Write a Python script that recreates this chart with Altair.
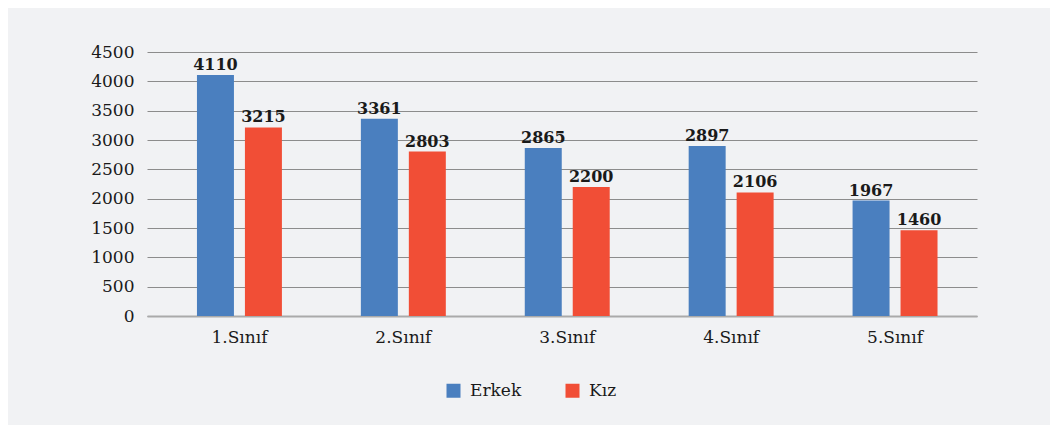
import altair as alt
import pandas as pd

classes = ["1.Sınıf", "2.Sınıf", "3.Sınıf", "4.Sınıf", "5.Sınıf"]
erkek = [4110, 3361, 2865, 2897, 1967]
kiz = [3215, 2803, 2200, 2106, 1460]
series = ["Erkek", "Kız"]
colors = ["#4a7fbf", "#f14e36"]
y_ticks = [0, 500, 1000, 1500, 2000, 2500, 3000, 3500, 4000, 4500]

rows = []
for c, e, k in zip(classes, erkek, kiz):
    rows.append({"Sınıf": c, "Cinsiyet": "Erkek", "Değer": e})
    rows.append({"Sınıf": c, "Cinsiyet": "Kız", "Değer": k})
df = pd.DataFrame(rows)

FONT = "DejaVu Serif"

x = alt.X("Sınıf:N", sort=classes, title=None,
          scale=alt.Scale(paddingInner=0, paddingOuter=0.032, align=1),
          axis=alt.Axis(labelAngle=0, labelFont=FONT, labelFontSize=17,
                        labelColor="#1a1a1a", labelPadding=13, ticks=False,
                        domainColor="#aaaaaa", domainWidth=2, grid=False))
xoff = alt.XOffset("Cinsiyet:N", sort=series,
                   scale=alt.Scale(paddingInner=0.229, paddingOuter=0.823))
y = alt.Y("Değer:Q", title=None,
          scale=alt.Scale(domain=[0, 4500], nice=False),
          axis=alt.Axis(values=y_ticks, format="d", labelFont=FONT, labelFontSize=17,
                        labelColor="#1a1a1a", labelPadding=13, ticks=False,
                        domain=False, gridColor="#8c8c8c", gridWidth=1))

base = alt.Chart(df)

bars = base.mark_bar().encode(
    x=x, xOffset=xoff, y=y,
    color=alt.Color("Cinsiyet:N", sort=series,
                    scale=alt.Scale(domain=series, range=colors),
                    legend=alt.Legend(title=None, orient="none", direction="horizontal",
                                      legendX=298, legendY=330, padding=0,
                                      symbolType="square", symbolSize=196,
                                      symbolStrokeWidth=0, labelFont=FONT,
                                      labelFontSize=17, labelColor="#1a1a1a",
                                      labelOffset=8, columnPadding=42)),
)

labels = base.mark_text(baseline="alphabetic", dy=-5, font=FONT, fontSize=16,
                        fontWeight="bold", color="#1a1a1a").encode(
    x=x, xOffset=xoff, y=y, text=alt.Text("Değer:Q")
)

chart = alt.layer(bars, labels).properties(
    width=830, height=264,
    background="#f1f2f4",
    padding={"left": 139, "top": 44, "right": 73, "bottom": 109},
    autosize=alt.AutoSizeParams(type="none"),
).configure_view(stroke=None)

chart.save("out.html", embed_options={"renderer": "svg", "actions": False})
